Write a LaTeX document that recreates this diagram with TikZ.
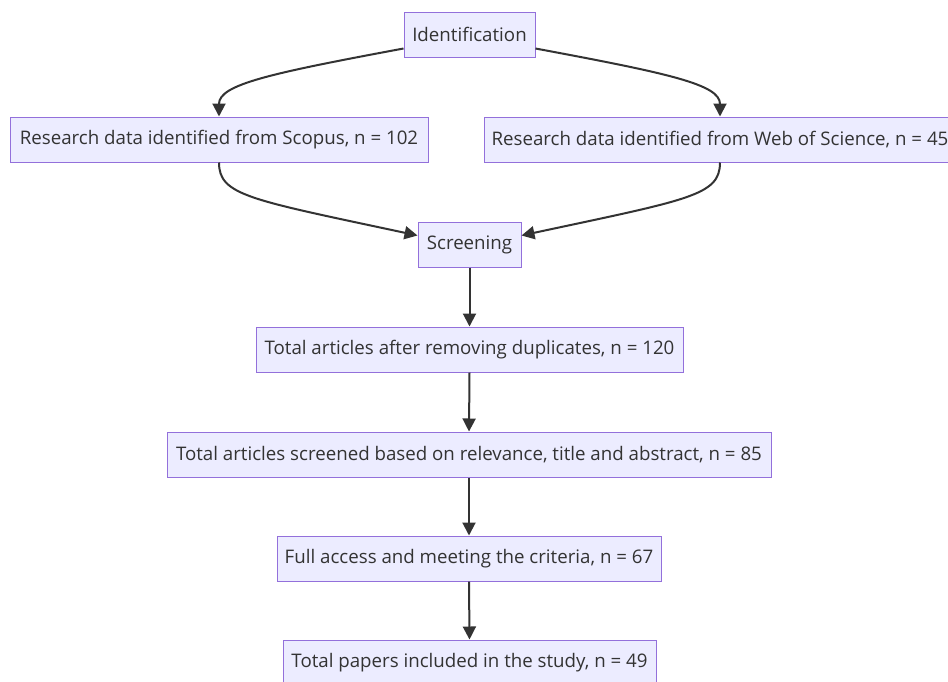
\documentclass[tikz,border=0pt]{standalone}
\usepackage{fontspec}
\setmainfont{Open Sans}
\usetikzlibrary{arrows.meta}
\definecolor{boxfill}{HTML}{ECECFF}
\definecolor{boxline}{HTML}{9370DB}
\definecolor{ink}{HTML}{333333}
\begin{document}
\begin{tikzpicture}[x=1pt,y=-1pt,
  box/.style={draw=boxline, fill=boxfill, line width=1pt, text=ink,
    font=\fontsize{18.7}{22}\selectfont, inner sep=0pt, anchor=center, minimum height=45pt},
  link/.style={draw=ink, line width=2pt, -{Triangle[length=13pt,width=13pt]}}]
\useasboundingbox (0,0) rectangle (948,681);
\fill[white] (0,0) rectangle (948,681);
\clip (0,0) rectangle (948,681);
\node[box, minimum width=131pt] (id) at (469.5,34.5) {Identification};
\node[box, minimum width=418pt] (sc) at (219,139.5) {Research data identified from Scopus, n = 102};
\node[box, minimum width=472pt] (wos) at (720,139.5) {Research data identified from Web of Science, n = 45};
\node[box, minimum width=103pt] (scr) at (469.5,244.5) {Screening};
\node[box, minimum width=427pt] (dup) at (469.5,349.5) {Total articles after removing duplicates, n = 120};
\node[box, minimum width=604pt] (rel) at (469,454.5) {Total articles screened based on relevance, title and abstract, n = 85};
\node[box, minimum width=384pt] (full) at (469,558.5) {Full access and meeting the criteria, n = 67};
\node[box, minimum width=373pt] (inc) at (469.5,662.5) {Total papers included in the study, n = 49};

\draw[link] ([yshift=9pt]id.south west) .. controls +(-134,25) and +(0,-32) .. (sc.north);
\draw[link] ([yshift=9pt]id.south east) .. controls +(134,25) and +(0,-32) .. (wos.north);
\draw[link] (sc.south) .. controls +(0,33) and +(-168,-36) .. ([yshift=9pt]scr.west);
\draw[link] (wos.south) .. controls +(0,33) and +(168,-36) .. ([yshift=9pt]scr.east);
\draw[link] (scr.south) -- (dup.north);
\draw[link] (dup.south) -- (rel.north);
\draw[link] (rel.south) -- (full.north);
\draw[link] (full.south) -- (inc.north);
\end{tikzpicture}
\end{document}
